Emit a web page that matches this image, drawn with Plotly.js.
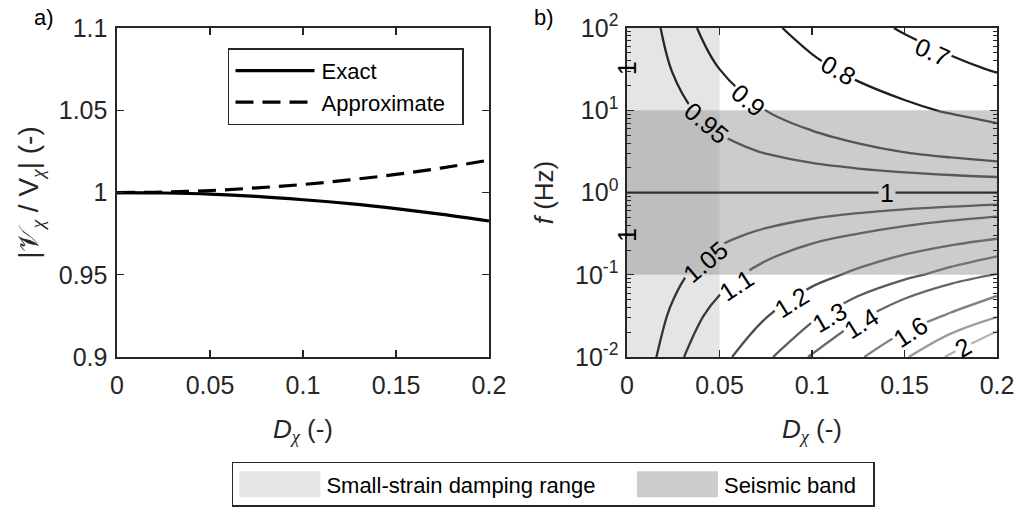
<!DOCTYPE html>
<html><head><meta charset="utf-8">
<script src="https://cdn.plot.ly/plotly-3.0.1.min.js"></script>
<style>html,body{margin:0;padding:0;background:#fff}#chart{width:1021px;height:519px}</style>
</head><body><div id="chart"></div>
<script>
// ---------- Panel a data ----------
const dampingA = [0, 0.025, 0.05, 0.075, 0.1, 0.125, 0.15, 0.175, 0.2];
const exactRatio = [1.0, 0.9997, 0.9990, 0.9976, 0.9956, 0.9932, 0.9902, 0.9867, 0.9827];
const approxRatio = [1.0, 1.0003, 1.0012, 1.0028, 1.0049, 1.0077, 1.0110, 1.0150, 1.0197];

// ---------- Panel b data ----------
const dampingB = [0, 0.025, 0.05, 0.075, 0.1, 0.125, 0.15, 0.175, 0.2];
const freqHz = [0.01, 0.03162, 0.1, 0.3162, 1, 3.162, 10, 31.62, 100];
const ratioGrid = [
  [1, 1.0786, 1.1703, 1.2793, 1.4113, 1.5735, 1.7762, 2.0330, 2.3632],
  [1, 1.0578, 1.1223, 1.1953, 1.2789, 1.3758, 1.4894, 1.6237, 1.7843],
  [1, 1.0378, 1.0780, 1.1213, 1.1681, 1.2191, 1.2750, 1.3366, 1.4049],
  [1, 1.0186, 1.0378, 1.0577, 1.0784, 1.0999, 1.1225, 1.1462, 1.1712],
  [1, 1, 1, 1, 1, 1, 1, 1, 1],
  [1, 0.9819, 0.9643, 0.9471, 0.9304, 0.9141, 0.8982, 0.8827, 0.8676],
  [1, 0.9645, 0.9311, 0.8998, 0.8704, 0.8428, 0.8168, 0.7924, 0.7695],
  [1, 0.9476, 0.9000, 0.8568, 0.8175, 0.7819, 0.7495, 0.7201, 0.6935],
  [1, 0.9312, 0.8705, 0.8170, 0.7698, 0.7283, 0.6916, 0.6595, 0.6313]
];
const contourLevels = [0.7, 0.8, 0.9, 0.95, 1.05, 1.1, 1.2, 1.3, 1.4, 1.6, 1.8, 2];
const unityLevel = 1;
const smallStrainRange = [0, 0.05];
const seismicBand = [0.1, 10];

// ---------- styling ----------
const FONT = 'Liberation Sans, Arial, Helvetica, sans-serif';
const INK = '#262626';
function levelGray(L) {
  const g = Math.max(30, Math.min(185, Math.round(51 + (L - 1) * 130)));
  return 'rgb(' + g + ',' + g + ',' + g + ')';
}
// inline contour label placement (style): position, angle
const labelSpots = [
  {lv:0.7,  d:0.1654, logf:1.708,  ang:24},
  {lv:0.8,  d:0.1142, logf:1.489,  ang:30},
  {lv:0.9,  d:0.0656, logf:1.125,  ang:40},
  {lv:0.95, d:0.0431, logf:0.841,  ang:40},
  {lv:1,    d:0.1404, logf:0,      ang:0},
  {lv:1.05, d:0.0422, logf:-0.841, ang:-40},
  {lv:1.1,  d:0.0593, logf:-1.125, ang:-33},
  {lv:1.2,  d:0.0890, logf:-1.327, ang:-32},
  {lv:1.3,  d:0.1097, logf:-1.51,  ang:-30},
  {lv:1.4,  d:0.1268, logf:-1.59,  ang:-32},
  {lv:1.6,  d:0.1530, logf:-1.692, ang:-33},
  {lv:2,    d:0.1818, logf:-1.875, ang:-30}
];
const edgeLabelLogf = [1.51, -0.517];

const traces = [];
traces.push({type:'scatter', mode:'lines', x:dampingA, y:exactRatio, name:'Exact',
  line:{color:'#000', width:3.2, shape:'spline'}, xaxis:'x', yaxis:'y', legend:'legend', hoverinfo:'skip'});
traces.push({type:'scatter', mode:'lines', x:dampingA, y:approxRatio, name:'Approximate\u00a0\u00a0',
  line:{color:'#000', width:3.2, dash:'18px,9px', shape:'spline'}, xaxis:'x', yaxis:'y', legend:'legend', hoverinfo:'skip'});

const fMin = freqHz[0], fMax = freqHz[freqHz.length - 1];
const dMin = dampingB[0], dMax = dampingB[dampingB.length - 1];
traces.push({type:'scatter', mode:'lines', name:'Small-strain damping range\u00a0\u00a0\u00a0\u00a0\u00a0',
  x:[smallStrainRange[0], smallStrainRange[1], smallStrainRange[1], smallStrainRange[0], smallStrainRange[0]],
  y:[fMin, fMin, fMax, fMax, fMin], fill:'toself', fillcolor:'rgba(0,0,0,0.1)', line:{width:0, color:'rgba(0,0,0,0)'},
  xaxis:'x2', yaxis:'y2', legend:'legend2', hoverinfo:'skip'});
traces.push({type:'scatter', mode:'lines', name:'Seismic band\u00a0\u00a0',
  x:[dMin, dMax, dMax, dMin, dMin], y:[seismicBand[0], seismicBand[0], seismicBand[1], seismicBand[1], seismicBand[0]],
  fill:'toself', fillcolor:'rgba(142,142,142,0.45)', line:{width:0, color:'rgba(0,0,0,0)'},
  xaxis:'x2', yaxis:'y2', legend:'legend2', hoverinfo:'skip'});

contourLevels.forEach(L => {
  traces.push({type:'contour', x:dampingB, y:freqHz, z:ratioGrid, xaxis:'x2', yaxis:'y2',
    autocontour:false, contours:{start:L, end:L, size:1, coloring:'none', showlabels:false},
    line:{color:levelGray(L), width:2.3, smoothing:1}, showscale:false, showlegend:false, hoverinfo:'skip'});
});
const unityRow = ratioGrid.findIndex(r => r.every(v => v === unityLevel));
const fUnity = freqHz[unityRow];
traces.push({type:'scatter', mode:'lines', x:[dMin, dMax], y:[fUnity, fUnity], xaxis:'x2', yaxis:'y2',
  line:{color:levelGray(unityLevel), width:2.3}, showlegend:false, hoverinfo:'skip'});

const axisBase = {showline:true, linecolor:INK, linewidth:1.6, mirror:'ticks', ticks:'inside', ticklen:7,
  tickwidth:1.4, tickcolor:INK, showgrid:false, zeroline:false,
  tickfont:{family:FONT, size:25, color:INK}};
const titleFont = {family:FONT, size:26, color:INK};
const dTitle = '<i>D</i><sub><span style="font-family:Liberation Serif"><i>χ</i></span></sub> (-)';

const annotations = [
  {xref:'paper', yref:'paper', x:0.031, y:0.995, xanchor:'left', yanchor:'top', text:'a)', showarrow:false,
    font:{family:FONT, size:22, color:'#000'}},
  {xref:'paper', yref:'paper', x:0.521, y:0.995, xanchor:'left', yanchor:'top', text:'b)', showarrow:false,
    font:{family:FONT, size:22, color:'#000'}}
];
const LABEL_BASE = annotations.length;
labelSpots.forEach(s => annotations.push({xref:'x2', yref:'y2', x:s.d, y:s.logf, text:String(s.lv),
  textangle:s.ang, showarrow:false, bgcolor:'rgba(0,0,0,0)', borderpad:1, font:{family:FONT, size:25, color:'#000'}}));
edgeLabelLogf.forEach(v => annotations.push({xref:'x2', yref:'y2', x:dMin, y:v, text:String(unityLevel),
  textangle:-90, showarrow:false, font:{family:FONT, size:25, color:'#000'}}));

const layout = {
  width:1021, height:519, margin:{l:0, r:0, t:0, b:0}, paper_bgcolor:'#fff', plot_bgcolor:'#fff',
  font:{family:FONT, color:INK},
  xaxis:Object.assign({}, axisBase, {domain:[0.1146, 0.4789], range:[0, 0.2], tickvals:[0,0.05,0.1,0.15,0.2],
    ticktext:['0','0.05','0.1','0.15','0.2'], anchor:'y', ticklabelstandoff:5,
    title:{text:dTitle, font:titleFont, standoff:22}}),
  yaxis:Object.assign({}, axisBase, {domain:[0.3121, 0.946], range:[0.9, 1.1], tickvals:[0.9,0.95,1,1.05,1.1],
    ticktext:['0.9','0.95','1','1.05','1.1'], anchor:'x', ticklabelstandoff:3,
    title:{text:'|<span style="font-family:Liberation Serif">𝒱</span><sub><span style="font-family:Liberation Serif"><i>χ</i></span></sub> / V<sub><span style="font-family:Liberation Serif"><i>χ</i></span></sub>| (-)',
      font:{family:FONT, size:28, color:INK}, standoff:12}}),
  xaxis2:Object.assign({}, axisBase, {domain:[0.6141, 0.9765], range:[0, 0.2], tickvals:[0,0.05,0.1,0.15,0.2],
    ticktext:['0','0.05','0.1','0.15','0.2'], anchor:'y2', ticklabelstandoff:5,
    title:{text:dTitle, font:titleFont, standoff:22}}),
  yaxis2:Object.assign({}, axisBase, {domain:[0.3121, 0.946], type:'log', range:[-2, 2],
    tickvals:[0.01,0.1,1,10,100], ticktext:['10<sup>-2</sup>','10<sup>-1</sup>','10<sup>0</sup>','10<sup>1</sup>','10<sup>2</sup>'],
    minor:{ticks:'inside', ticklen:4, tickwidth:1, tickcolor:INK, dtick:'D1', showgrid:false},
    anchor:'x2', ticklabelstandoff:2, title:{text:'<i>f</i> (Hz)', font:titleFont, standoff:14}}),
  legend:{x:0.2233, y:0.907, xanchor:'left', yanchor:'top', bgcolor:'#fff', bordercolor:INK, borderwidth:1.5,
    font:{family:FONT, size:22, color:'#000'}, itemwidth:82, tracegroupgap:0},
  legend2:{orientation:'h', x:0.542, y:0.11, xanchor:'center', yanchor:'top', bgcolor:'#fff', bordercolor:INK,
    borderwidth:1.5, font:{family:FONT, size:22, color:'#000'}, itemwidth:83},
  annotations:annotations,
  showlegend:true
};

Plotly.newPlot('chart', traces, layout, {staticPlot:true}).then(gd => {
  // wider legend symbols, as in the reference
  gd.querySelectorAll('g.traces').forEach(g => {
    const t = g.querySelector('text.legendtext');
    const name = t ? t.textContent : '';
    if (name.indexOf('Exact') === 0 || name.indexOf('Approximate') === 0) {
      g.querySelectorAll('path.js-line').forEach(p => p.setAttribute('d', 'M6,0h79'));
    } else {
      g.querySelectorAll('path.js-fill').forEach(p => p.setAttribute('d', 'M6,-13h81v26h-81z'));
    }
  });
  // break each contour line under its own inline label (like clabel)
  try {
    const NS = 'http://www.w3.org/2000/svg';
    const contourLayer = Array.from(gd.querySelectorAll('.contourlayer')).find(c => c.children.length > 0);
    if (!contourLayer) return;
    const scatterLayer = contourLayer.parentNode.querySelector('.scatterlayer');
    const scatterTraces = scatterLayer ? scatterLayer.children : [];
    const svgEl = contourLayer.ownerSVGElement;
    const defs = document.createElementNS(NS, 'defs');
    svgEl.insertBefore(defs, svgEl.firstChild);
    const applyGap = (el, spotIdx, id) => {
      if (!el || spotIdx < 0) return;
      const rect = gd.querySelector('g.annotation[data-index="' + (LABEL_BASE + spotIdx) + '"] rect.bg');
      if (!rect) return;
      const m = el.getScreenCTM().inverse().multiply(rect.getScreenCTM());
      const mask = document.createElementNS(NS, 'mask');
      mask.setAttribute('id', id);
      mask.setAttribute('maskUnits', 'userSpaceOnUse');
      mask.setAttribute('x', -3000); mask.setAttribute('y', -3000);
      mask.setAttribute('width', 6000); mask.setAttribute('height', 6000);
      const full = document.createElementNS(NS, 'rect');
      full.setAttribute('x', -3000); full.setAttribute('y', -3000);
      full.setAttribute('width', 6000); full.setAttribute('height', 6000); full.setAttribute('fill', '#fff');
      const rx = rect.x.baseVal.value, ry = rect.y.baseVal.value;
      const rw = rect.width.baseVal.value, rh = rect.height.baseVal.value;
      const hole = document.createElementNS(NS, 'rect');
      hole.setAttribute('x', rx); hole.setAttribute('y', ry + rh * 0.12);
      hole.setAttribute('width', rw); hole.setAttribute('height', rh * 0.76);
      hole.setAttribute('fill', '#000');
      hole.setAttribute('transform', 'matrix(' + [m.a, m.b, m.c, m.d, m.e, m.f].join(',') + ')');
      mask.appendChild(full); mask.appendChild(hole);
      defs.appendChild(mask);
      el.setAttribute('mask', 'url(#' + id + ')');
    };
    const groups = Array.from(contourLayer.children);
    contourLevels.forEach((L, i) => applyGap(groups[i], labelSpots.findIndex(s => s.lv === L), 'gap-' + i));
    applyGap(scatterTraces[scatterTraces.length - 1], labelSpots.findIndex(s => s.lv === unityLevel), 'gap-unity');
  } catch (e) { /* keep the plain chart */ }
});
</script></body></html>
